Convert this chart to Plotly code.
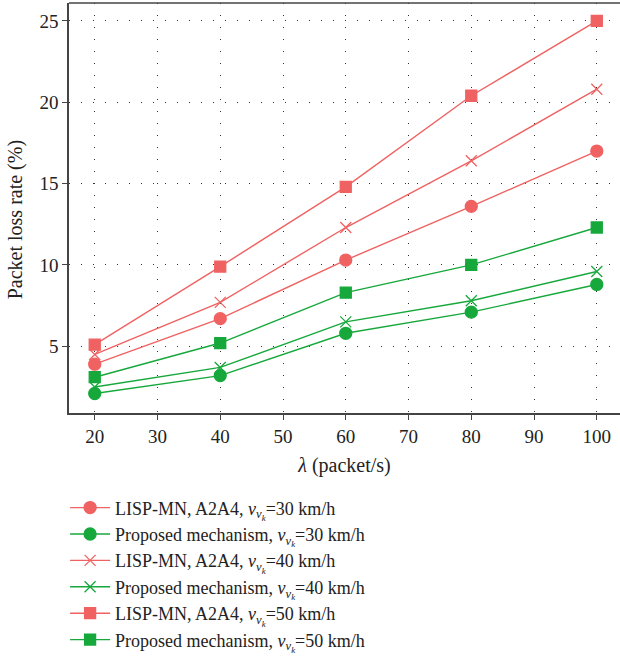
import plotly.graph_objects as go

# Arrival rate (packet/s)
lam = [20, 40, 60, 80, 100]

# Packet loss rate (%) per scheme and vehicle speed
lisp_30 = [3.9, 6.7, 10.3, 13.6, 17.0]
prop_30 = [2.1, 3.2, 5.8, 7.1, 8.8]
lisp_40 = [4.5, 7.7, 12.3, 16.4, 20.8]
prop_40 = [2.5, 3.7, 6.5, 7.8, 9.6]
lisp_50 = [5.1, 9.9, 14.8, 20.4, 25.0]
prop_50 = [3.1, 5.2, 8.3, 10.0, 12.3]

x_ticks = [20, 30, 40, 50, 60, 70, 80, 90, 100]
y_ticks = [5, 10, 15, 20, 25]

RED = "#F06262"
GREEN = "#17A83C"
FONT = "Liberation Serif, Times New Roman, serif"
NU = "<i>ν</i><sub><i>ν</i><sub><i>k</i></sub></sub>"

series = [
    ("LISP-MN, A2A4, " + NU + "=30 km/h", lisp_30, RED, "circle", 12),
    ("Proposed mechanism, " + NU + "=30 km/h", prop_30, GREEN, "circle", 12),
    ("LISP-MN, A2A4, " + NU + "=40 km/h", lisp_40, RED, "x-thin", 11),
    ("Proposed mechanism, " + NU + "=40 km/h", prop_40, GREEN, "x-thin", 11),
    ("LISP-MN, A2A4, " + NU + "=50 km/h", lisp_50, RED, "square", 11),
    ("Proposed mechanism, " + NU + "=50 km/h", prop_50, GREEN, "square", 11),
]

fig = go.Figure()
for name, ys, color, sym, size in series:
    fig.add_trace(go.Scatter(
        x=lam, y=ys, name=name, mode="lines+markers",
        line=dict(color=color, width=1.4),
        marker=dict(symbol=sym, size=size, color=color,
                    line=dict(color=color, width=1.3)),
    ))

fig.update_layout(
    width=620, height=656,
    margin=dict(l=69, r=0, t=3, b=243, autoexpand=False),
    paper_bgcolor="white", plot_bgcolor="white",
    font=dict(family=FONT, size=19, color="#222"),
    showlegend=True,
    legend=dict(
        xref="container", yref="container",
        x=0.105, y=0.254, xanchor="left", yanchor="top",
        font=dict(size=18, family=FONT, color="#222"),
        tracegroupgap=0, itemwidth=40,
        bgcolor="rgba(0,0,0,0)",
    ),
)

fig.update_xaxes(
    range=[15.9, 103.7], tickvals=x_ticks,
    showline=True, linecolor="#444", linewidth=1.6, mirror=False,
    ticks="outside", ticklen=5, tickcolor="#444", tickwidth=1.2,
    showgrid=True, gridcolor="#333", gridwidth=1.2, griddash="1px,11px",
    zeroline=False,
    title=dict(text="<i>λ</i> (packet/s)", font=dict(size=20), standoff=12),
    tickfont=dict(size=19),
)
fig.update_yaxes(
    range=[0.9, 26.1], tickvals=y_ticks,
    showline=True, linecolor="#444", linewidth=1.6,
    ticks="outside", ticklen=5, tickcolor="#444", tickwidth=1.2,
    showgrid=True, gridcolor="#333", gridwidth=1.2, griddash="1px,11px",
    zeroline=False,
    tickfont=dict(size=19),
)

# y-axis title, rotated, left of the tick labels
fig.add_annotation(
    text="Packet loss rate (%)", textangle=-90, showarrow=False,
    xref="paper", yref="paper", x=0, y=0.47, xanchor="center", yanchor="middle",
    xshift=-54, font=dict(size=20, family=FONT, color="#222"),
)

# top border of the frame
fig.add_shape(type="line", xref="paper", yref="paper", x0=0, x1=1, y0=1, y1=1,
              line=dict(color="#444", width=1.6))

fig.write_html("out.html")
